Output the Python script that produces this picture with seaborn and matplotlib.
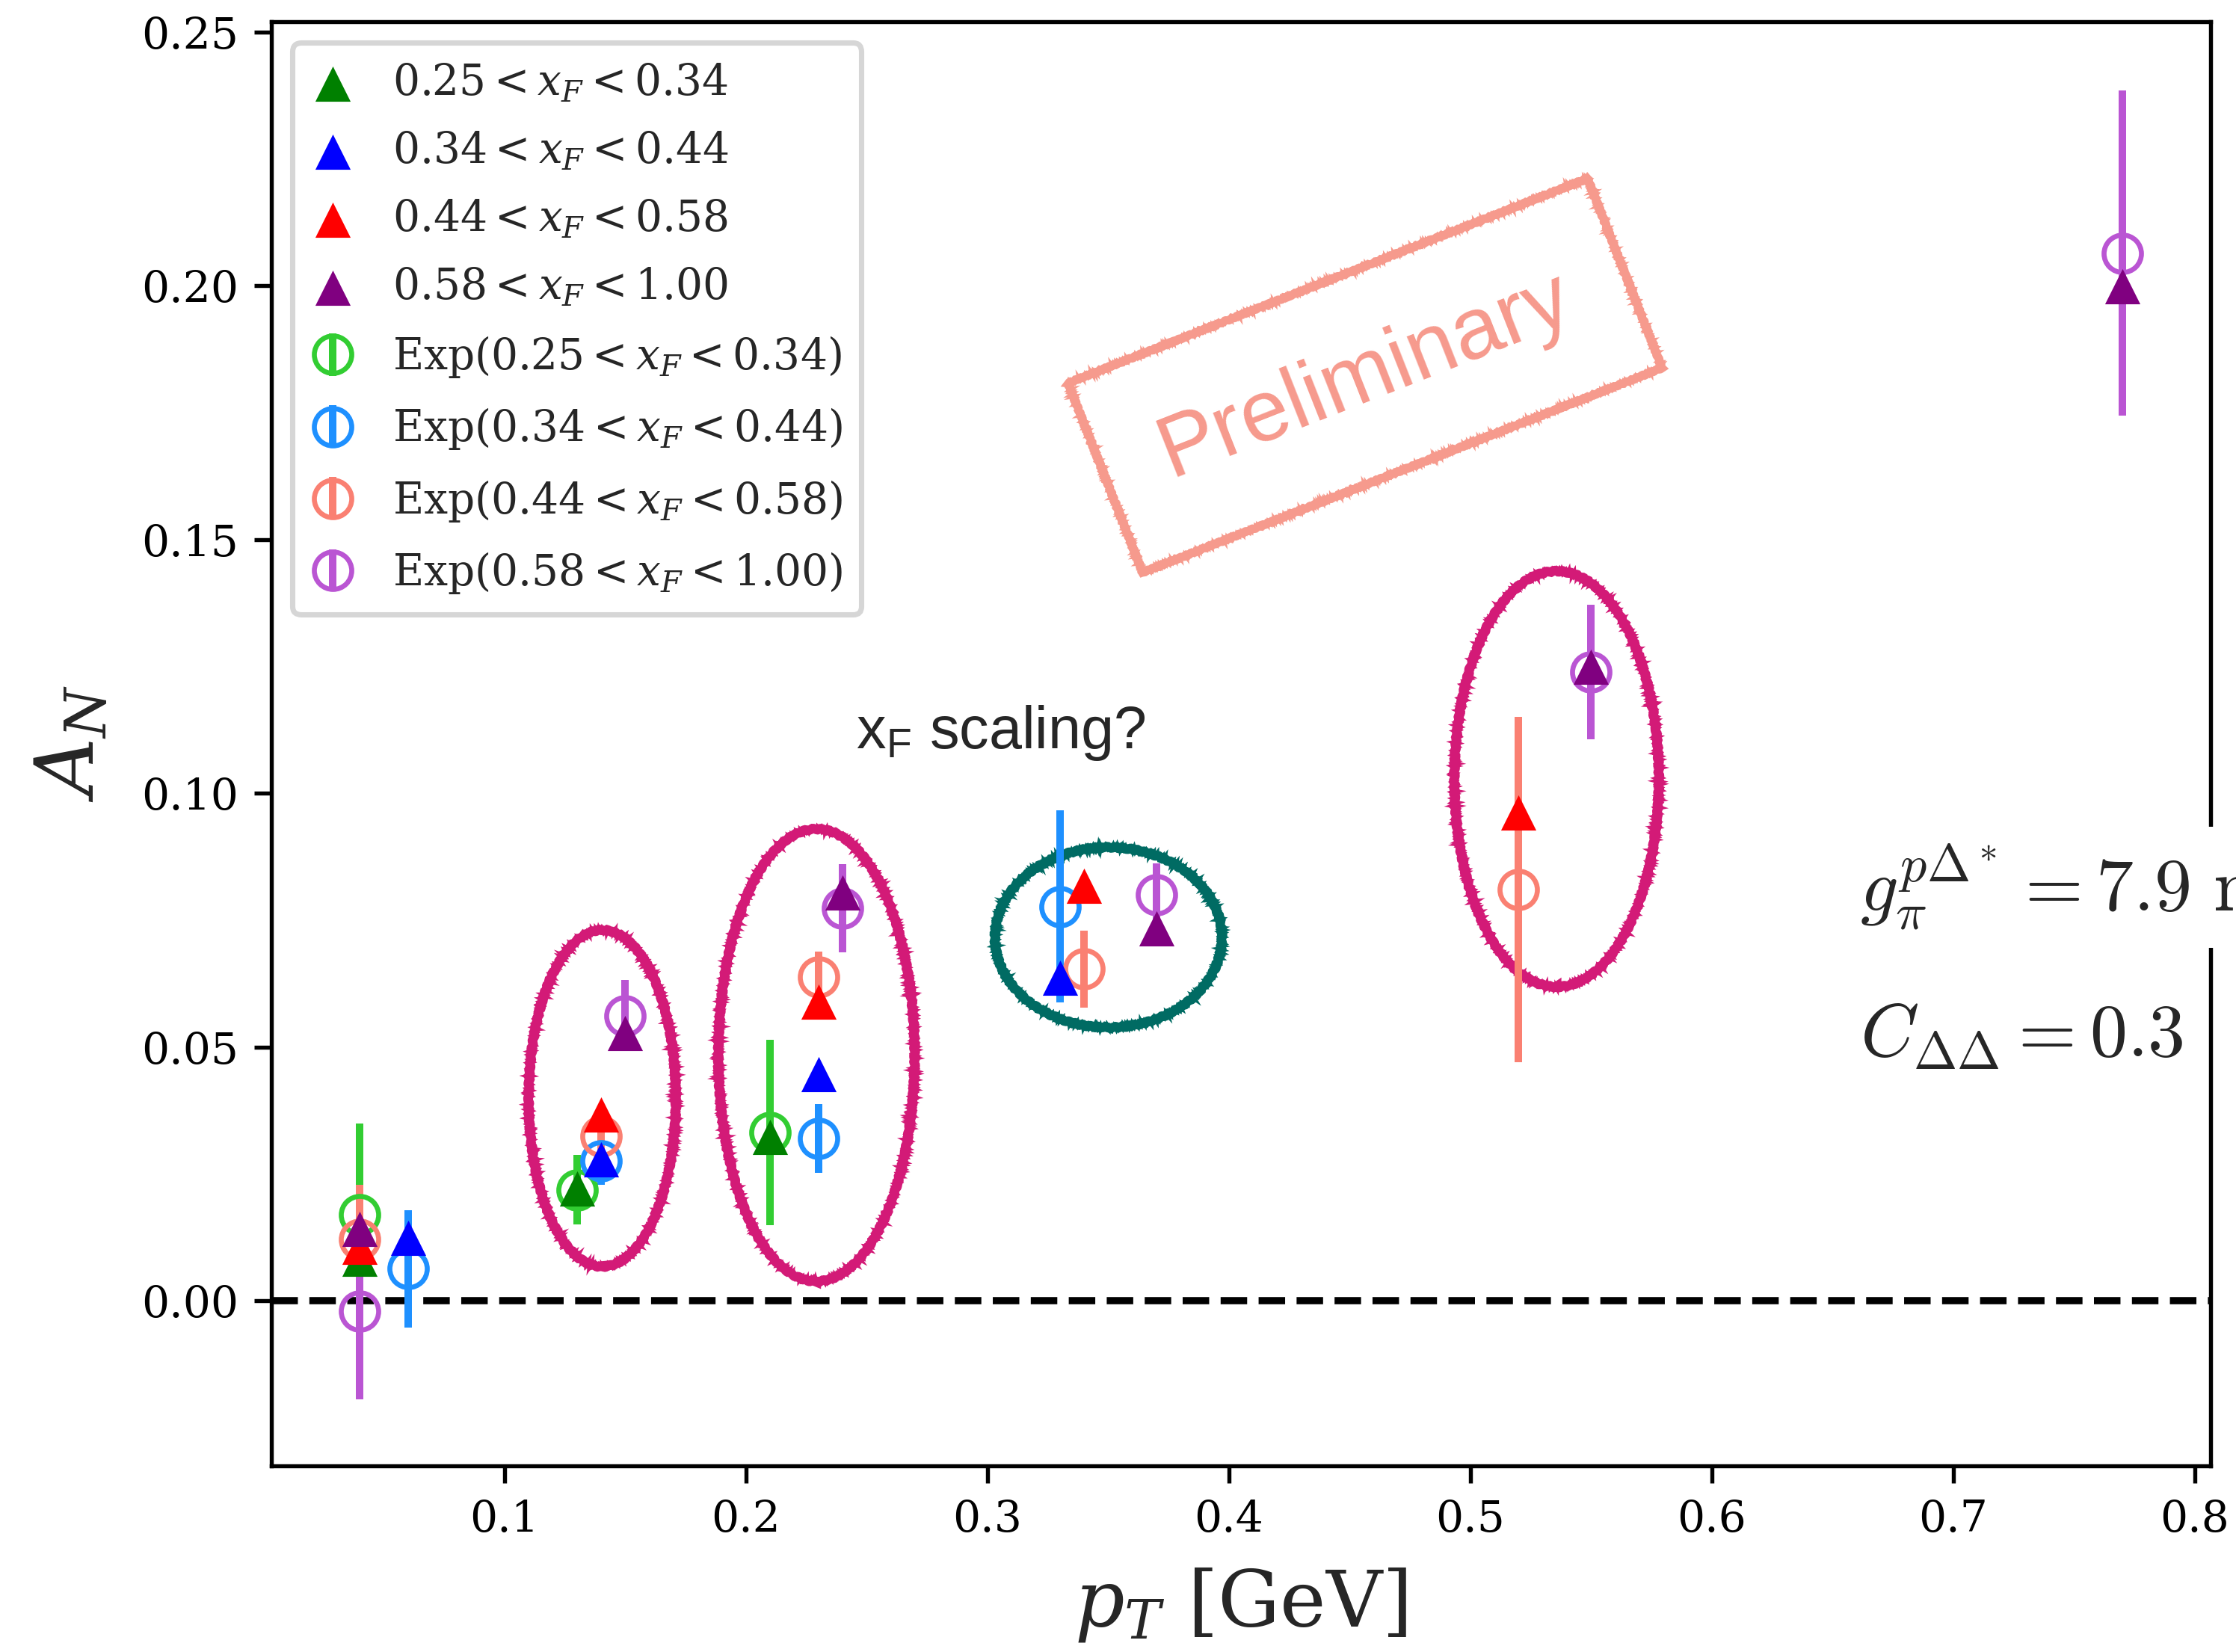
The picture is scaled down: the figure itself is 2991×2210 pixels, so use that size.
import numpy as np
import pandas as pd
import seaborn as sns
import matplotlib
matplotlib.use("Agg")
import matplotlib.pyplot as plt
from matplotlib.patches import Ellipse

# ---------------------------------------------------------------
# data
# ---------------------------------------------------------------
bins = ["0.25 < x_F < 0.34", "0.34 < x_F < 0.44", "0.44 < x_F < 0.58", "0.58 < x_F < 1.00"]
theory_colors = ["green", "blue", "red", "purple"]
exp_colors = ["limegreen", "dodgerblue", "salmon", "mediumorchid"]

# model (triangles)
th_x_1 = [0.04, 0.13, 0.21]
th_y_1 = [0.0083, 0.0221, 0.0323]
th_x_2 = [0.06, 0.14, 0.23, 0.33]
th_y_2 = [0.0124, 0.0279, 0.0447, 0.0636]
th_x_3 = [0.04, 0.14, 0.23, 0.34, 0.52]
th_y_3 = [0.0106, 0.0367, 0.0589, 0.0818, 0.0962]
th_x_4 = [0.04, 0.15, 0.24, 0.37, 0.55, 0.77]
th_y_4 = [0.0142, 0.0528, 0.0805, 0.0734, 0.1249, 0.1999]

# experiment (open circles with errors)
ex_x_1 = [0.04, 0.13, 0.21]
ex_y_1 = [0.0169, 0.0219, 0.0332]
ex_e_1 = [0.0180, 0.0068, 0.0183]
ex_x_2 = [0.06, 0.14, 0.23, 0.33]
ex_y_2 = [0.0063, 0.0276, 0.0320, 0.0777]
ex_e_2 = [0.0115, 0.0048, 0.0068, 0.0189]
ex_x_3 = [0.04, 0.14, 0.23, 0.34, 0.52]
ex_y_3 = [0.0121, 0.0324, 0.0638, 0.0654, 0.0810]
ex_e_3 = [0.0107, 0.0040, 0.0050, 0.0076, 0.0340]
ex_x_4 = [0.04, 0.15, 0.24, 0.37, 0.55, 0.77]
ex_y_4 = [-0.0020, 0.0562, 0.0774, 0.0800, 0.1239, 0.2064]
ex_e_4 = [0.0174, 0.0070, 0.0087, 0.0062, 0.0133, 0.0320]

# hand-drawn circles: centre x, centre y, width, height
circ_x = [0.1405, 0.2292, 0.3501, 0.5357]
circ_y = [0.0399, 0.0484, 0.0716, 0.1028]
circ_w = [0.061, 0.0813, 0.0940, 0.0847]
circ_h = [0.0663, 0.0891, 0.0355, 0.0819]
circ_c = ["#d31a77", "#d31a77", "#006b63", "#d31a77"]

theory = pd.DataFrame({
    "pT": th_x_1 + th_x_2 + th_x_3 + th_x_4,
    "AN": th_y_1 + th_y_2 + th_y_3 + th_y_4,
    "bin": [bins[0]] * 3 + [bins[1]] * 4 + [bins[2]] * 5 + [bins[3]] * 6,
})
exp_sets = [(ex_x_1, ex_y_1, ex_e_1), (ex_x_2, ex_y_2, ex_e_2),
            (ex_x_3, ex_y_3, ex_e_3), (ex_x_4, ex_y_4, ex_e_4)]

# ---------------------------------------------------------------
# style
# ---------------------------------------------------------------
sns.set_style("ticks")
plt.rcParams.update({
    "font.family": ["DejaVu Serif"],
    "mathtext.fontset": "dejavuserif",
    "axes.edgecolor": "black",
    "axes.linewidth": 1.3,
    "xtick.color": "black",
    "ytick.color": "black",
    "xtick.direction": "out",
    "ytick.direction": "out",
})

fig, ax = plt.subplots(figsize=(2991 / 300, 2210 / 300), dpi=300)
fig.subplots_adjust(left=0.1214, right=0.9886, bottom=0.1127, top=0.9869)

# experiment first, model triangles drawn on top
for (xs, ys, es), b, c in zip(exp_sets, bins, exp_colors):
    ax.errorbar(xs, ys, yerr=es, fmt="o", ms=12, mfc="none", mec=c, mew=1.6,
                ecolor=c, elinewidth=2.4, capsize=0, label=f"Exp(${b}$)", zorder=3)

for b, c in zip(bins, theory_colors):
    sub = theory[theory["bin"] == b]
    sns.scatterplot(data=sub, x="pT", y="AN", marker="^", s=128, color=c,
                    linewidth=0, label=f"${b}$", ax=ax, zorder=4)

ax.axhline(0, color="black", ls="--", lw=2.3, zorder=2)

# crayon-like ellipses: a few rough strokes on top of each other
strokes = [(3.0, (1.0, 10, 2)), (1.5, (2.2, 4, 2)), (1.2, (2.0, 7, 3))]
for cx, cy, w, h, c in zip(circ_x, circ_y, circ_w, circ_h, circ_c):
    for lw, sk in strokes:
        e = Ellipse((cx, cy), w, h, fill=False, ec=c, lw=lw, zorder=1.5)
        e.set_sketch_params(*sk)
        ax.add_patch(e)

# annotations: stamp drawn as two rough frames around the word
stamp_c = "#f69a8d"
for i, (lw, sk) in enumerate([(2.6, (1.0, 8, 2)), (1.3, (2.2, 4, 2))]):
    st = ax.text(0.4564, 0.1823, "Preliminary", rotation=21.5, rotation_mode="anchor",
                 ha="center", va="center", fontsize=28,
                 color=stamp_c if i == 0 else "none", family="Liberation Sans",
                 bbox=dict(boxstyle="square,pad=0.7", fc="none", ec=stamp_c, lw=lw))
    st.get_bbox_patch().set_sketch_params(*sk)

ax.text(0.2456, 0.1089, r"x$_\mathregular{F}$ scaling?", fontsize=19,
        family="Liberation Sans", ha="left", va="baseline")

ax.text(0.6614, 0.0769, r"$g_{\pi}^{p\Delta^*} = 7.9\ \mathrm{mb}$", fontsize=24,
        math_fontfamily="cm", ha="left", va="baseline", clip_on=False, zorder=5,
        bbox=dict(fc="white", ec="none", pad=5))
ax.text(0.6614, 0.0480, r"$C_{\Delta\Delta} = 0.3$", fontsize=24,
        math_fontfamily="cm", ha="left", va="baseline", clip_on=False, zorder=5)

# axes
ax.set_xlim(0.0035, 0.8065)
ax.set_ylim(-0.0325, 0.252)
ax.set_xticks(np.arange(0.1, 0.81, 0.1))
ax.set_yticks(np.arange(0.0, 0.251, 0.05))
ax.tick_params(labelsize=14, length=5.5, width=1.3, pad=5)
ax.set_xlabel(r"$p_T$ [GeV]", fontsize=25, labelpad=8)
ax.set_ylabel(r"$A_N$", fontsize=26, labelpad=10)

leg = ax.legend(loc="upper left", fontsize=13.6, handlelength=1.0, handletextpad=0.9,
                labelspacing=0.62, borderpad=0.45, framealpha=0.8, edgecolor="0.8")
leg.get_frame().set_linewidth(1.7)

fig.savefig("out.png", dpi=300)
